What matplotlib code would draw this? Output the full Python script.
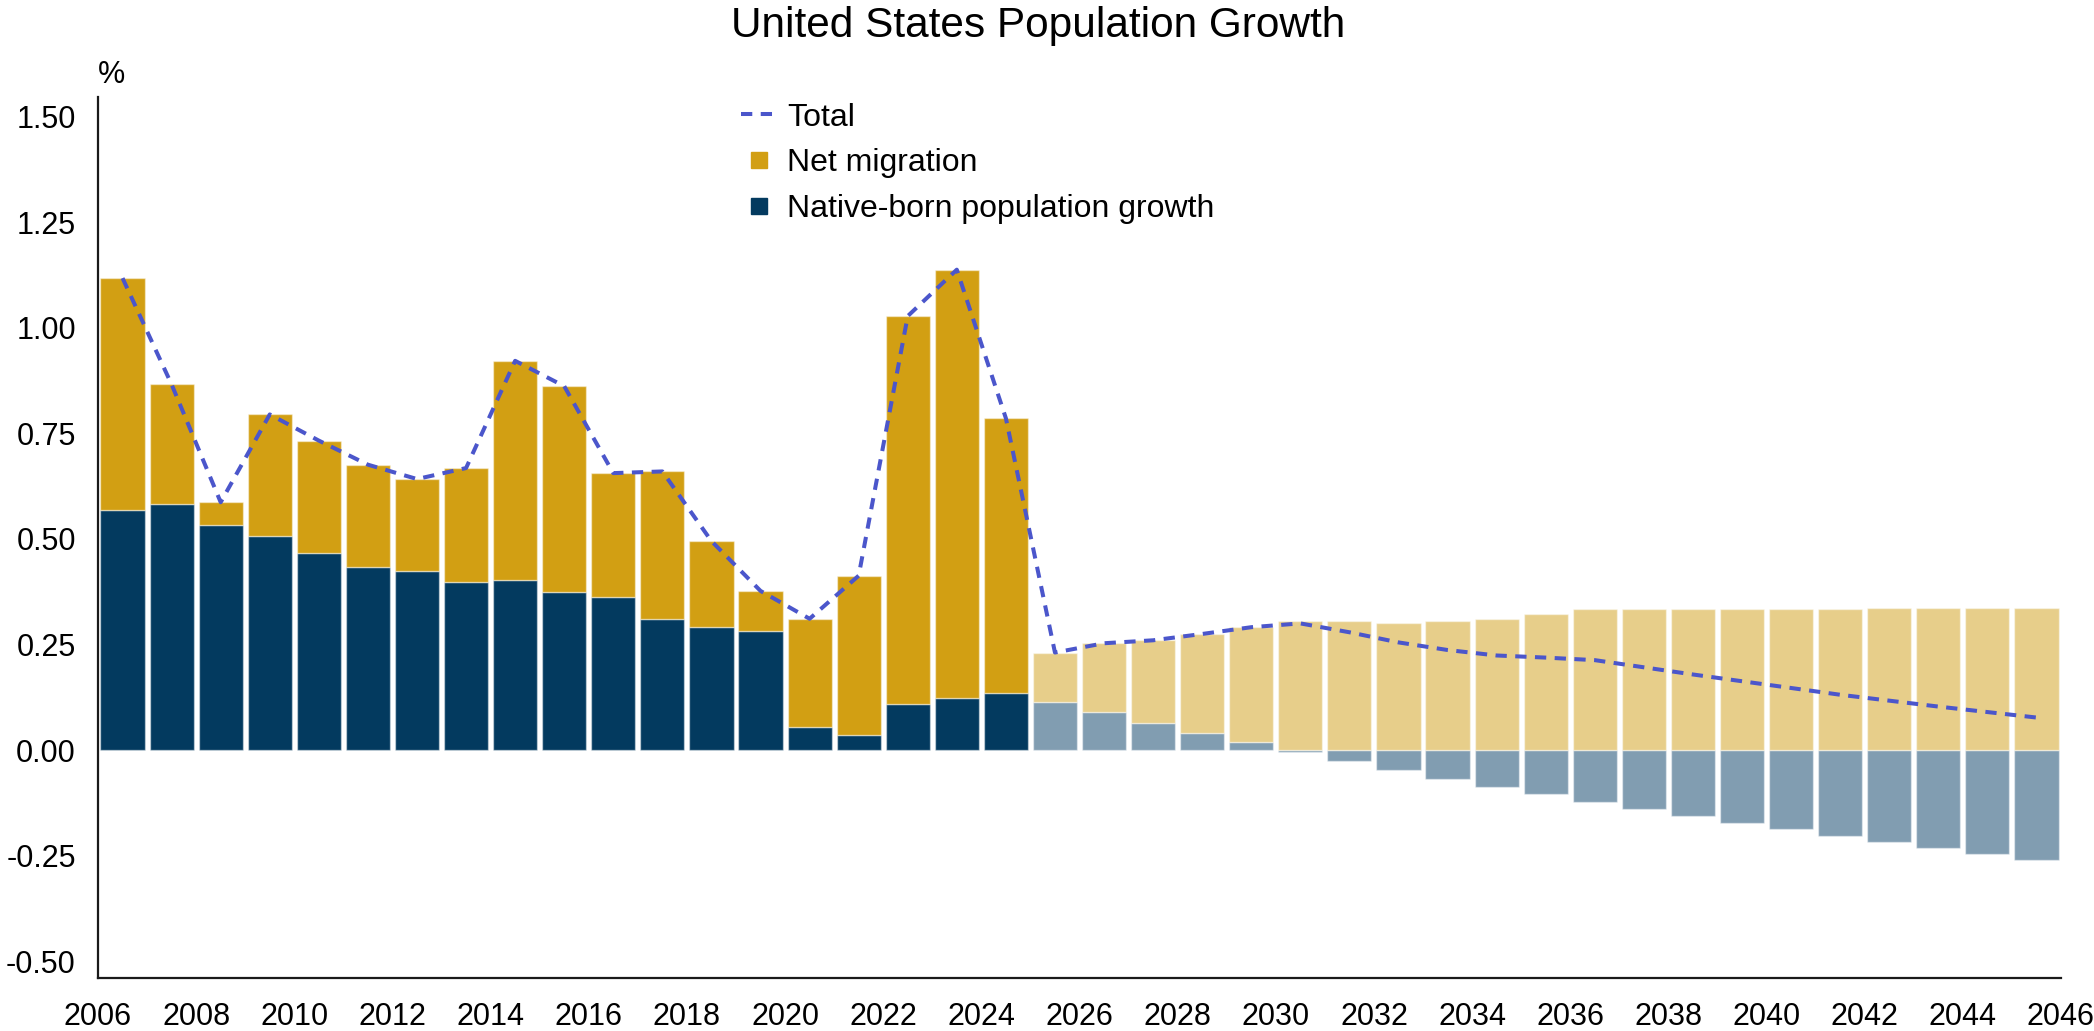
import matplotlib
matplotlib.use("Agg")
import matplotlib.pyplot as plt
from matplotlib.lines import Line2D
import numpy as np

plt.rcParams['font.family'] = ['Liberation Sans', 'DejaVu Sans']

# Annual population growth components, % (2025 onward are projections)
years = list(range(2006, 2046))
native_born = [0.569, 0.582, 0.532, 0.507, 0.467, 0.434, 0.425, 0.399, 0.403, 0.375,
               0.363, 0.311, 0.291, 0.281, 0.055, 0.036, 0.109, 0.124, 0.135, 0.114,
               0.090, 0.063, 0.040, 0.018, -0.005, -0.026, -0.047, -0.068, -0.087, -0.104,
               -0.122, -0.139, -0.156, -0.172, -0.188, -0.204, -0.219, -0.233, -0.247, -0.260]
net_migration = [0.549, 0.284, 0.055, 0.288, 0.266, 0.242, 0.217, 0.269, 0.519, 0.487,
                 0.293, 0.349, 0.204, 0.096, 0.256, 0.377, 0.919, 1.014, 0.651, 0.117,
                 0.163, 0.197, 0.235, 0.273, 0.305, 0.305, 0.302, 0.305, 0.311, 0.323,
                 0.335, 0.335, 0.335, 0.335, 0.335, 0.335, 0.336, 0.336, 0.337, 0.337]
first_projection_year = 2025
x_tick_labels = [str(y) for y in range(2006, 2047, 2)]
y_ticks = [-0.50, -0.25, 0.00, 0.25, 0.50, 0.75, 1.00, 1.25, 1.50]

native = np.array(native_born)
migration = np.array(net_migration)
total = native + migration
projected = np.array(years) >= first_projection_year

GOLD, GOLD_LIGHT = '#D29F13', '#E7CE8A'
NAVY, NAVY_LIGHT = '#033A5F', '#819DB1'
LINE = '#4B56CB'
DASH = (0, (2.8, 2.1))

fig = plt.figure(figsize=(20.94, 10.31), dpi=100)
ax = fig.add_axes([98 / 2094, 1 - 978 / 1031, (2061 - 98) / 2094, (978 - 97) / 1031])

x = np.arange(len(years))
nav_colors = [NAVY_LIGHT if p else NAVY for p in projected]
gold_colors = [GOLD_LIGHT if p else GOLD for p in projected]
edge = (1, 1, 1, 0.45)

ax.bar(x, native, width=0.9, color=nav_colors, edgecolor=edge, linewidth=1.0, zorder=2)
ax.bar(x, migration, width=0.9, bottom=np.maximum(native, 0), color=gold_colors,
       edgecolor=edge, linewidth=1.0, zorder=2)
ax.plot(x, total, color=LINE, linewidth=2.9, linestyle=DASH, zorder=3)

ax.set_xlim(-0.5, len(years) - 0.5)
ax.set_ylim(-0.540, 1.547)
ax.set_yticks(y_ticks)
ax.set_yticklabels([f"{v:.2f}" for v in y_ticks])
ax.set_xticks(np.arange(len(x_tick_labels)) * 2 - 0.5)
ax.set_xticklabels(x_tick_labels)
ax.tick_params(axis='both', length=0, labelsize=22, colors='black')
ax.tick_params(axis='y', pad=16)
ax.tick_params(axis='x', pad=17)

for side in ('top', 'right'):
    ax.spines[side].set_visible(False)
for side in ('left', 'bottom'):
    ax.spines[side].set_linewidth(1.6)
    ax.spines[side].set_color('#1a1a1a')

fig.text(98 / 2094, 1 - 75 / 1031, '%', ha='left', va='center', fontsize=22)
fig.text(1038 / 2094, 1 - 37 / 1031, 'United States Population Growth',
         ha='center', va='baseline', fontsize=30.5)

handles = [
    Line2D([], [], color=LINE, linewidth=2.9, linestyle=DASH),
    Line2D([], [], color=GOLD, marker='s', markersize=11.5, linestyle='none'),
    Line2D([], [], color=NAVY, marker='s', markersize=11.5, linestyle='none'),
]
labels = ['Total', 'Net migration', 'Native-born population growth']
fig.legend(handles, labels, loc='upper left',
           bbox_to_anchor=(741 / 2094, 1 - 102.5 / 1031),
           frameon=False, fontsize=23, handlelength=1.1, handletextpad=0.35,
           labelspacing=0.49, borderpad=0, borderaxespad=0)

fig.savefig('out.png', dpi=100, facecolor='white')
